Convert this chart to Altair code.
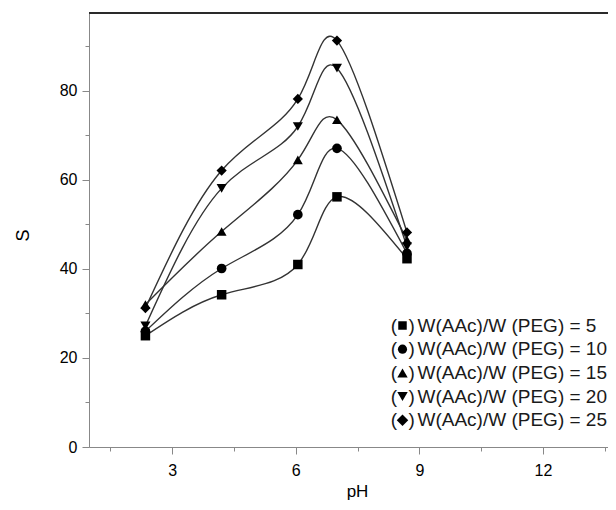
import altair as alt
import pandas as pd

# ---- data ----
ph = [2.35, 4.2, 6.05, 7.0, 8.7]
ratios = ["5", "10", "15", "20", "25"]
s_5 = [25.0, 34.2, 41.0, 56.2, 42.3]
s_10 = [26.0, 40.1, 52.2, 67.1, 43.5]
s_15 = [32.0, 48.4, 64.5, 73.5, 46.5]
s_20 = [27.2, 58.1, 72.0, 85.1, 45.0]
s_25 = [31.2, 62.1, 78.2, 91.3, 48.2]
shapes = ["square", "circle", "triangle-up", "triangle-down", "diamond"]
sizes = [90, 105, 135, 135, 165]
legend_labels = ["W(AAc)/W (PEG) = " + r for r in ratios]

x_ticks = [1.5, 3, 4.5, 6, 7.5, 9, 10.5, 12, 13.5]
y_ticks = [0, 10, 20, 30, 40, 50, 60, 70, 80, 90]

all_s = [s_5, s_10, s_15, s_20, s_25]
rows = []
for name, vals in zip(ratios, all_s):
    for x, y in zip(ph, vals):
        rows.append({"pH": x, "S": y, "ratio": name})
df = pd.DataFrame(rows)

FONT = "Liberation Sans, Arial, sans-serif"
W, H = 519, 434
xscale = alt.Scale(domain=[0.98, 13.58], nice=False, zero=False)
yscale = alt.Scale(domain=[0, 97.5], nice=False, zero=False)

x_axis = alt.Axis(
    values=x_ticks,
    labelExpr="datum.value % 3 === 0 ? datum.label : ''",
    tickSize={"condition": {"test": "datum.value % 3 !== 0", "value": 4}, "value": 7},
    grid=False,
    title="pH",
    titleX=268,
    titleY=44,
    titleBaseline="middle",
    titleFontSize=17,
    titleFontWeight="normal",
    labelFontSize=16,
    labelPadding=8,
)
y_axis = alt.Axis(
    values=y_ticks,
    labelExpr="datum.value % 20 === 0 ? datum.label : ''",
    tickSize={"condition": {"test": "datum.value % 20 !== 0", "value": 4}, "value": 7},
    grid=False,
    title="S",
    titleX=-66,
    titleY=222,
    titleBaseline="middle",
    titleFontSize=18,
    titleFontWeight="normal",
    labelFontSize=16,
    labelPadding=5,
)

shape_enc = alt.Shape("ratio:N", scale=alt.Scale(domain=ratios, range=shapes), legend=None)
size_enc = alt.Size("ratio:N", scale=alt.Scale(domain=ratios, range=sizes), legend=None)

lines = alt.Chart(df).mark_line(
    interpolate="natural", color="#333333", strokeWidth=1.4
).encode(
    x=alt.X("pH:Q", scale=xscale, axis=x_axis),
    y=alt.Y("S:Q", scale=yscale, axis=y_axis),
    detail="ratio:N",
)

points = alt.Chart(df).mark_point(filled=True, color="black", opacity=1).encode(
    x=alt.X("pH:Q", scale=xscale),
    y=alt.Y("S:Q", scale=yscale),
    shape=shape_enc,
    size=size_enc,
)

top_border = alt.Chart(alt.Data(values=[{}])).mark_rule(
    color="#2a2a2a", strokeWidth=2
).encode(x=alt.value(0), x2=alt.value(W + 10), y=alt.value(0))

layers = [lines, points, top_border]

# ---- in-plot legend ----
leg_y0 = 312.5   # pixel row of first entry inside the plot area
leg_dy = 23.7
for i, (lab, shp) in enumerate(zip(legend_labels, shapes)):
    py = leg_y0 + i * leg_dy
    one = alt.Data(values=[{}])
    layers.append(
        alt.Chart(one).mark_text(text="(", align="right", baseline="middle",
                                 fontSize=19, font=FONT, color="#1a1a1a")
        .encode(x=alt.value(308), y=alt.value(py))
    )
    layers.append(
        alt.Chart(one).mark_point(shape=shp, filled=True, color="black", opacity=1,
                                  size=sizes[i] * 0.8)
        .encode(x=alt.value(313.5), y=alt.value(py))
    )
    layers.append(
        alt.Chart(one).mark_text(text=")", align="left", baseline="middle",
                                 fontSize=19, font=FONT, color="#1a1a1a")
        .encode(x=alt.value(319.5), y=alt.value(py))
    )
    layers.append(
        alt.Chart(one).mark_text(text=lab, align="left", baseline="middle",
                                 fontSize=19, font=FONT, color="#1a1a1a")
        .encode(x=alt.value(328.5), y=alt.value(py))
    )

chart = alt.layer(*layers).properties(
    width=W,
    height=H,
    padding={"left": 81, "top": 5, "right": 0, "bottom": 55},
    autosize=alt.AutoSizeParams(type="none"),
).configure_view(
    stroke=None
).configure_axis(
    domainColor="#2a2a2a",
    domainWidth=2,
    tickColor="#2a2a2a",
    tickWidth=1.5,
    labelFont=FONT,
    titleFont=FONT,
    labelColor="#222222",
    titleColor="#222222",
).configure(background="white")

chart.save("out.html", embed_options={"renderer": "svg", "actions": False})
